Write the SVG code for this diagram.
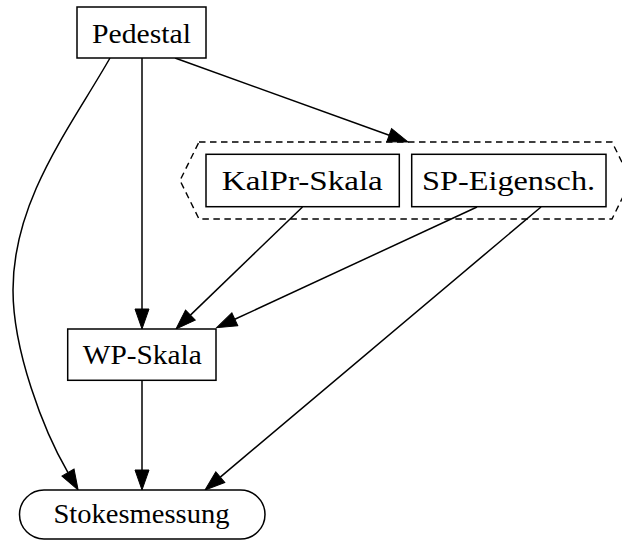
<svg xmlns="http://www.w3.org/2000/svg" width="622" height="541" viewBox="0 0 622 541">
  <style>
    .box { fill: #ffffff; stroke: #000000; stroke-width: 1.5; }
    .label { font-family: "Liberation Serif", "DejaVu Serif", serif; font-size: 27px; fill: #000000; text-anchor: middle; }
    .edge { fill: none; stroke: #000000; stroke-width: 1.5; marker-end: url(#arrow); }
    .cluster { fill: none; stroke: #000000; stroke-width: 1.4; stroke-dasharray: 6.5 4.5; }
  </style>
  <defs>
    <marker id="arrow" markerUnits="userSpaceOnUse" viewBox="0 -8 22 16" markerWidth="22" markerHeight="16" refX="0" refY="0" orient="auto" overflow="visible">
      <path d="M0,-7 L20,0 L0,7 z" fill="#000000" stroke="#000000" stroke-width="1"/>
    </marker>
  </defs>

  <rect width="622" height="541" fill="#ffffff"/>

  <!-- dashed group enclosing the two scale nodes -->
  <g id="cluster">
    <path class="cluster" d="M199,142 L612,142 L631,180.5 L612,219 L199,219 L180,180.5 Z"/>
  </g>

  <g id="edges">
    <!-- Pedestal -> cluster -->
    <path class="edge" d="M175,58 L389.2,135.2"/>
    <!-- Pedestal -> WP-Skala -->
    <path class="edge" d="M142,58 L142,309"/>
    <!-- Pedestal -> Stokesmessung (curved) -->
    <path class="edge" d="M110,58 C70,128 13,200 13,290 C13,350 43,430 68,472.6"/>
    <!-- KalPr-Skala -> WP-Skala -->
    <path class="edge" d="M302.5,207 L190.4,315.1"/>
    <!-- SP-Eigensch. -> WP-Skala -->
    <path class="edge" d="M477,207 L234.8,319.3"/>
    <!-- SP-Eigensch. -> Stokesmessung -->
    <path class="edge" d="M541,207 L220.3,477.1"/>
    <!-- WP-Skala -> Stokesmessung -->
    <path class="edge" d="M142,380.3 L142,470"/>
  </g>

  <g id="pedestal">
    <rect class="box" x="77" y="7" width="129" height="51"/>
    <text class="label" x="141.5" y="42.7" textLength="99" lengthAdjust="spacingAndGlyphs">Pedestal</text>
  </g>

  <g id="kalpr-skala">
    <rect class="box" x="206" y="154.3" width="193.3" height="52.4"/>
    <text class="label" x="302.3" y="190" textLength="161" lengthAdjust="spacingAndGlyphs">KalPr-Skala</text>
  </g>

  <g id="sp-eigensch">
    <rect class="box" x="411.7" y="154.3" width="194.3" height="52.4"/>
    <text class="label" x="508.6" y="190" textLength="173" lengthAdjust="spacingAndGlyphs">SP-Eigensch.</text>
  </g>

  <g id="wp-skala">
    <rect class="box" x="67.7" y="329" width="148.3" height="51.3"/>
    <text class="label" x="142.2" y="364" textLength="119" lengthAdjust="spacingAndGlyphs">WP-Skala</text>
  </g>

  <g id="stokesmessung">
    <rect class="box" x="19.5" y="490" width="245.5" height="49" rx="24.5" ry="24.5"/>
    <text class="label" x="141.5" y="523" textLength="176" lengthAdjust="spacingAndGlyphs">Stokesmessung</text>
  </g>
</svg>
